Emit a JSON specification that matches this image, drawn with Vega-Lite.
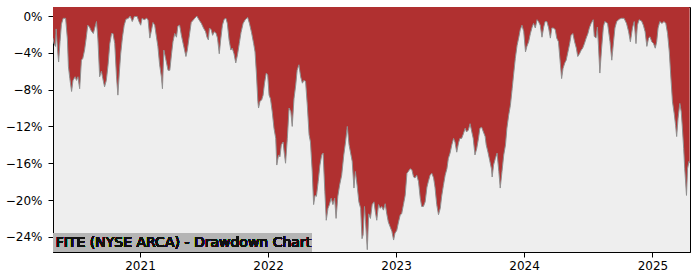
{
  "$schema": "https://vega.github.io/schema/vega-lite/v6.json",
  "width": 637,
  "height": 245,
  "autosize": "none",
  "padding": {"left": 53, "top": 7, "right": 10, "bottom": 28},
  "background": "white",
  "config": {
    "view": {"fill": "#eeeeee", "stroke": "black", "strokeWidth": 1},
    "axis": {"labelFont": "DejaVu Sans", "labelFontSize": 12, "labelColor": "black", "tickColor": "black", "domainColor": "black", "grid": false, "tickSize": 5}
  },
  "data": {"values": [
    {"d":"2020-04-28","v":-0.024},{"d":"2020-05-01","v":-0.030},{"d":"2020-05-05","v":-0.033},{"d":"2020-05-07","v":-0.014},{"d":"2020-05-11","v":-0.037},{"d":"2020-05-14","v":-0.050},{"d":"2020-05-18","v":-0.028},{"d":"2020-05-22","v":-0.009},{"d":"2020-05-27","v":-0.0025},{"d":"2020-06-03","v":-0.0025},{"d":"2020-06-08","v":-0.025},{"d":"2020-06-11","v":-0.055},{"d":"2020-06-15","v":-0.068},{"d":"2020-06-20","v":-0.082},{"d":"2020-06-24","v":-0.070},{"d":"2020-06-30","v":-0.066},{"d":"2020-07-04","v":-0.070},{"d":"2020-07-08","v":-0.066},{"d":"2020-07-13","v":-0.079},{"d":"2020-07-18","v":-0.048},{"d":"2020-07-22","v":-0.046},{"d":"2020-07-27","v":-0.037},{"d":"2020-08-01","v":-0.023},{"d":"2020-08-05","v":-0.010},{"d":"2020-08-10","v":-0.012},{"d":"2020-08-15","v":-0.016},{"d":"2020-08-21","v":-0.019},{"d":"2020-08-25","v":-0.013},{"d":"2020-08-30","v":-0.006},{"d":"2020-09-03","v":-0.025},{"d":"2020-09-08","v":-0.066},{"d":"2020-09-13","v":-0.060},{"d":"2020-09-17","v":-0.068},{"d":"2020-09-22","v":-0.077},{"d":"2020-09-27","v":-0.070},{"d":"2020-10-02","v":-0.053},{"d":"2020-10-07","v":-0.030},{"d":"2020-10-12","v":-0.019},{"d":"2020-10-16","v":-0.019},{"d":"2020-10-21","v":-0.030},{"d":"2020-10-26","v":-0.066},{"d":"2020-10-30","v":-0.086},{"d":"2020-11-03","v":-0.062},{"d":"2020-11-07","v":-0.041},{"d":"2020-11-12","v":-0.023},{"d":"2020-11-17","v":-0.010},{"d":"2020-11-22","v":-0.0035},{"d":"2020-11-29","v":-0.0025},{"d":"2020-12-04","v":0.0},{"d":"2020-12-10","v":-0.006},{"d":"2020-12-16","v":-0.0005},{"d":"2020-12-24","v":-0.0005},{"d":"2020-12-29","v":-0.006},{"d":"2021-01-03","v":-0.010},{"d":"2021-01-07","v":-0.0025},{"d":"2021-01-13","v":-0.004},{"d":"2021-01-20","v":-0.0025},{"d":"2021-01-24","v":-0.004},{"d":"2021-01-29","v":-0.024},{"d":"2021-02-03","v":-0.015},{"d":"2021-02-07","v":-0.007},{"d":"2021-02-12","v":-0.010},{"d":"2021-02-17","v":-0.023},{"d":"2021-02-21","v":-0.033},{"d":"2021-02-26","v":-0.053},{"d":"2021-03-03","v":-0.066},{"d":"2021-03-06","v":-0.079},{"d":"2021-03-10","v":-0.037},{"d":"2021-03-15","v":-0.046},{"d":"2021-03-22","v":-0.059},{"d":"2021-03-27","v":-0.059},{"d":"2021-04-01","v":-0.041},{"d":"2021-04-05","v":-0.028},{"d":"2021-04-10","v":-0.019},{"d":"2021-04-15","v":-0.023},{"d":"2021-04-19","v":-0.011},{"d":"2021-04-24","v":-0.010},{"d":"2021-04-29","v":-0.021},{"d":"2021-05-04","v":-0.030},{"d":"2021-05-08","v":-0.037},{"d":"2021-05-12","v":-0.044},{"d":"2021-05-16","v":-0.037},{"d":"2021-05-21","v":-0.023},{"d":"2021-05-27","v":-0.007},{"d":"2021-06-06","v":-0.0025},{"d":"2021-06-12","v":0.0},{"d":"2021-06-18","v":-0.004},{"d":"2021-06-25","v":-0.008},{"d":"2021-07-01","v":-0.013},{"d":"2021-07-07","v":-0.017},{"d":"2021-07-11","v":-0.023},{"d":"2021-07-15","v":-0.026},{"d":"2021-07-18","v":-0.013},{"d":"2021-07-23","v":-0.015},{"d":"2021-07-27","v":-0.021},{"d":"2021-08-01","v":-0.017},{"d":"2021-08-06","v":-0.019},{"d":"2021-08-10","v":-0.024},{"d":"2021-08-15","v":-0.041},{"d":"2021-08-19","v":-0.026},{"d":"2021-08-24","v":-0.010},{"d":"2021-08-29","v":-0.0035},{"d":"2021-09-03","v":-0.0025},{"d":"2021-09-07","v":-0.008},{"d":"2021-09-12","v":-0.026},{"d":"2021-09-17","v":-0.037},{"d":"2021-09-21","v":-0.035},{"d":"2021-09-26","v":-0.041},{"d":"2021-10-01","v":-0.051},{"d":"2021-10-06","v":-0.042},{"d":"2021-10-11","v":-0.030},{"d":"2021-10-16","v":-0.018},{"d":"2021-10-22","v":-0.008},{"d":"2021-10-28","v":-0.004},{"d":"2021-11-04","v":-0.0015},{"d":"2021-11-09","v":-0.008},{"d":"2021-11-15","v":-0.018},{"d":"2021-11-21","v":-0.030},{"d":"2021-11-25","v":-0.039},{"d":"2021-11-29","v":-0.063},{"d":"2021-12-03","v":-0.093},{"d":"2021-12-05","v":-0.100},{"d":"2021-12-09","v":-0.093},{"d":"2021-12-14","v":-0.091},{"d":"2021-12-18","v":-0.086},{"d":"2021-12-22","v":-0.073},{"d":"2021-12-27","v":-0.062},{"d":"2021-12-31","v":-0.064},{"d":"2022-01-04","v":-0.086},{"d":"2022-01-08","v":-0.090},{"d":"2022-01-13","v":-0.104},{"d":"2022-01-18","v":-0.122},{"d":"2022-01-23","v":-0.133},{"d":"2022-01-26","v":-0.162},{"d":"2022-01-31","v":-0.151},{"d":"2022-02-04","v":-0.153},{"d":"2022-02-08","v":-0.140},{"d":"2022-02-13","v":-0.137},{"d":"2022-02-16","v":-0.148},{"d":"2022-02-20","v":-0.160},{"d":"2022-02-25","v":-0.133},{"d":"2022-03-02","v":-0.100},{"d":"2022-03-07","v":-0.104},{"d":"2022-03-11","v":-0.120},{"d":"2022-03-16","v":-0.090},{"d":"2022-03-21","v":-0.075},{"d":"2022-03-25","v":-0.059},{"d":"2022-03-30","v":-0.053},{"d":"2022-04-04","v":-0.066},{"d":"2022-04-09","v":-0.073},{"d":"2022-04-13","v":-0.070},{"d":"2022-04-18","v":-0.071},{"d":"2022-04-23","v":-0.097},{"d":"2022-04-28","v":-0.129},{"d":"2022-05-02","v":-0.137},{"d":"2022-05-07","v":-0.169},{"d":"2022-05-11","v":-0.205},{"d":"2022-05-15","v":-0.195},{"d":"2022-05-19","v":-0.196},{"d":"2022-05-24","v":-0.180},{"d":"2022-05-29","v":-0.162},{"d":"2022-06-03","v":-0.151},{"d":"2022-06-07","v":-0.149},{"d":"2022-06-12","v":-0.191},{"d":"2022-06-16","v":-0.222},{"d":"2022-06-21","v":-0.209},{"d":"2022-06-25","v":-0.205},{"d":"2022-06-30","v":-0.198},{"d":"2022-07-05","v":-0.205},{"d":"2022-07-10","v":-0.198},{"d":"2022-07-14","v":-0.220},{"d":"2022-07-19","v":-0.196},{"d":"2022-07-24","v":-0.184},{"d":"2022-07-30","v":-0.173},{"d":"2022-08-05","v":-0.151},{"d":"2022-08-10","v":-0.137},{"d":"2022-08-15","v":-0.120},{"d":"2022-08-20","v":-0.140},{"d":"2022-08-24","v":-0.148},{"d":"2022-08-29","v":-0.158},{"d":"2022-09-03","v":-0.187},{"d":"2022-09-07","v":-0.169},{"d":"2022-09-12","v":-0.184},{"d":"2022-09-17","v":-0.202},{"d":"2022-09-22","v":-0.209},{"d":"2022-09-26","v":-0.242},{"d":"2022-09-29","v":-0.238},{"d":"2022-10-03","v":-0.207},{"d":"2022-10-06","v":-0.223},{"d":"2022-10-11","v":-0.254},{"d":"2022-10-15","v":-0.215},{"d":"2022-10-20","v":-0.220},{"d":"2022-10-25","v":-0.205},{"d":"2022-10-30","v":-0.202},{"d":"2022-11-03","v":-0.213},{"d":"2022-11-07","v":-0.222},{"d":"2022-11-12","v":-0.205},{"d":"2022-11-17","v":-0.209},{"d":"2022-11-21","v":-0.207},{"d":"2022-11-26","v":-0.211},{"d":"2022-12-01","v":-0.204},{"d":"2022-12-06","v":-0.216},{"d":"2022-12-10","v":-0.224},{"d":"2022-12-15","v":-0.229},{"d":"2022-12-20","v":-0.234},{"d":"2022-12-25","v":-0.2435},{"d":"2022-12-29","v":-0.236},{"d":"2023-01-03","v":-0.233},{"d":"2023-01-08","v":-0.224},{"d":"2023-01-13","v":-0.216},{"d":"2023-01-17","v":-0.215},{"d":"2023-01-22","v":-0.205},{"d":"2023-01-27","v":-0.195},{"d":"2023-02-01","v":-0.171},{"d":"2023-02-05","v":-0.169},{"d":"2023-02-10","v":-0.166},{"d":"2023-02-15","v":-0.167},{"d":"2023-02-20","v":-0.175},{"d":"2023-02-24","v":-0.176},{"d":"2023-03-01","v":-0.173},{"d":"2023-03-06","v":-0.180},{"d":"2023-03-11","v":-0.198},{"d":"2023-03-15","v":-0.207},{"d":"2023-03-20","v":-0.207},{"d":"2023-03-25","v":-0.202},{"d":"2023-03-30","v":-0.186},{"d":"2023-04-03","v":-0.180},{"d":"2023-04-08","v":-0.173},{"d":"2023-04-13","v":-0.171},{"d":"2023-04-18","v":-0.176},{"d":"2023-04-22","v":-0.186},{"d":"2023-04-27","v":-0.205},{"d":"2023-05-02","v":-0.216},{"d":"2023-05-07","v":-0.209},{"d":"2023-05-11","v":-0.196},{"d":"2023-05-16","v":-0.184},{"d":"2023-05-21","v":-0.173},{"d":"2023-05-26","v":-0.166},{"d":"2023-05-30","v":-0.155},{"d":"2023-06-04","v":-0.149},{"d":"2023-06-09","v":-0.140},{"d":"2023-06-14","v":-0.133},{"d":"2023-06-18","v":-0.137},{"d":"2023-06-23","v":-0.148},{"d":"2023-06-28","v":-0.138},{"d":"2023-07-02","v":-0.133},{"d":"2023-07-07","v":-0.133},{"d":"2023-07-12","v":-0.128},{"d":"2023-07-17","v":-0.122},{"d":"2023-07-21","v":-0.126},{"d":"2023-07-26","v":-0.124},{"d":"2023-07-31","v":-0.117},{"d":"2023-08-05","v":-0.126},{"d":"2023-08-09","v":-0.133},{"d":"2023-08-14","v":-0.151},{"d":"2023-08-19","v":-0.144},{"d":"2023-08-24","v":-0.133},{"d":"2023-08-28","v":-0.122},{"d":"2023-09-02","v":-0.121},{"d":"2023-09-07","v":-0.126},{"d":"2023-09-12","v":-0.131},{"d":"2023-09-15","v":-0.140},{"d":"2023-09-20","v":-0.148},{"d":"2023-09-25","v":-0.157},{"d":"2023-09-30","v":-0.166},{"d":"2023-10-02","v":-0.175},{"d":"2023-10-06","v":-0.162},{"d":"2023-10-11","v":-0.155},{"d":"2023-10-16","v":-0.149},{"d":"2023-10-21","v":-0.169},{"d":"2023-10-25","v":-0.187},{"d":"2023-10-30","v":-0.169},{"d":"2023-11-04","v":-0.151},{"d":"2023-11-09","v":-0.140},{"d":"2023-11-13","v":-0.122},{"d":"2023-11-18","v":-0.108},{"d":"2023-11-23","v":-0.097},{"d":"2023-11-28","v":-0.079},{"d":"2023-12-02","v":-0.064},{"d":"2023-12-07","v":-0.046},{"d":"2023-12-12","v":-0.032},{"d":"2023-12-17","v":-0.023},{"d":"2023-12-21","v":-0.015},{"d":"2023-12-26","v":-0.010},{"d":"2023-12-31","v":-0.017},{"d":"2024-01-05","v":-0.039},{"d":"2024-01-09","v":-0.033},{"d":"2024-01-14","v":-0.028},{"d":"2024-01-19","v":-0.019},{"d":"2024-01-24","v":-0.012},{"d":"2024-01-28","v":-0.008},{"d":"2024-02-02","v":-0.013},{"d":"2024-02-07","v":-0.004},{"d":"2024-02-11","v":-0.006},{"d":"2024-02-16","v":-0.010},{"d":"2024-02-21","v":-0.023},{"d":"2024-02-26","v":-0.012},{"d":"2024-03-01","v":-0.006},{"d":"2024-03-06","v":-0.006},{"d":"2024-03-11","v":-0.013},{"d":"2024-03-16","v":-0.024},{"d":"2024-03-20","v":-0.013},{"d":"2024-03-25","v":-0.013},{"d":"2024-03-30","v":-0.015},{"d":"2024-04-03","v":-0.024},{"d":"2024-04-08","v":-0.028},{"d":"2024-04-13","v":-0.050},{"d":"2024-04-17","v":-0.068},{"d":"2024-04-21","v":-0.057},{"d":"2024-04-26","v":-0.051},{"d":"2024-04-30","v":-0.048},{"d":"2024-05-05","v":-0.039},{"d":"2024-05-10","v":-0.030},{"d":"2024-05-14","v":-0.021},{"d":"2024-05-19","v":-0.019},{"d":"2024-05-24","v":-0.028},{"d":"2024-05-29","v":-0.035},{"d":"2024-06-02","v":-0.044},{"d":"2024-06-07","v":-0.041},{"d":"2024-06-12","v":-0.037},{"d":"2024-06-16","v":-0.035},{"d":"2024-06-21","v":-0.030},{"d":"2024-06-26","v":-0.024},{"d":"2024-07-01","v":-0.019},{"d":"2024-07-05","v":-0.013},{"d":"2024-07-10","v":-0.008},{"d":"2024-07-16","v":-0.004},{"d":"2024-07-19","v":-0.022},{"d":"2024-07-24","v":-0.024},{"d":"2024-07-28","v":-0.012},{"d":"2024-07-31","v":-0.032},{"d":"2024-08-04","v":-0.062},{"d":"2024-08-09","v":-0.035},{"d":"2024-08-14","v":-0.012},{"d":"2024-08-18","v":-0.006},{"d":"2024-08-26","v":-0.008},{"d":"2024-09-02","v":-0.028},{"d":"2024-09-07","v":-0.048},{"d":"2024-09-12","v":-0.028},{"d":"2024-09-16","v":-0.013},{"d":"2024-09-21","v":-0.006},{"d":"2024-09-28","v":-0.0035},{"d":"2024-10-04","v":-0.0025},{"d":"2024-10-12","v":-0.0025},{"d":"2024-10-19","v":-0.008},{"d":"2024-10-25","v":-0.017},{"d":"2024-10-30","v":-0.028},{"d":"2024-11-05","v":-0.013},{"d":"2024-11-10","v":-0.006},{"d":"2024-11-15","v":-0.030},{"d":"2024-11-19","v":-0.010},{"d":"2024-11-24","v":-0.004},{"d":"2024-12-01","v":-0.0055},{"d":"2024-12-06","v":-0.010},{"d":"2024-12-11","v":-0.017},{"d":"2024-12-16","v":-0.033},{"d":"2024-12-21","v":-0.024},{"d":"2024-12-25","v":-0.0225},{"d":"2024-12-30","v":-0.028},{"d":"2025-01-04","v":-0.030},{"d":"2025-01-09","v":-0.035},{"d":"2025-01-13","v":-0.028},{"d":"2025-01-17","v":-0.013},{"d":"2025-01-22","v":-0.006},{"d":"2025-01-28","v":-0.008},{"d":"2025-02-03","v":-0.006},{"d":"2025-02-08","v":-0.008},{"d":"2025-02-13","v":-0.019},{"d":"2025-02-18","v":-0.039},{"d":"2025-02-22","v":-0.064},{"d":"2025-02-27","v":-0.093},{"d":"2025-03-04","v":-0.106},{"d":"2025-03-08","v":-0.119},{"d":"2025-03-11","v":-0.131},{"d":"2025-03-15","v":-0.111},{"d":"2025-03-20","v":-0.095},{"d":"2025-03-24","v":-0.104},{"d":"2025-03-27","v":-0.120},{"d":"2025-03-31","v":-0.144},{"d":"2025-04-03","v":-0.166},{"d":"2025-04-08","v":-0.195},{"d":"2025-04-11","v":-0.166},{"d":"2025-04-15","v":-0.158},{"d":"2025-04-17","v":-0.160}
  ]},
  "layer": [
    {
      "mark": {"type": "area", "color": "#b03030", "clip": true},
      "encoding": {
        "x": {"field": "d", "type": "temporal",
          "scale": {"type": "utc", "domain": [{"year": 2020, "month": 4, "date": 28, "utc": true}, {"year": 2025, "month": 4, "date": 18, "utc": true}]},
          "axis": {"title": null, "format": "%Y", "formatType": "utc", "labelPadding": 3,
            "values": [{"year": 2021, "month": 1, "date": 1, "utc": true}, {"year": 2022, "month": 1, "date": 1, "utc": true}, {"year": 2023, "month": 1, "date": 1, "utc": true}, {"year": 2024, "month": 1, "date": 1, "utc": true}, {"year": 2025, "month": 1, "date": 1, "utc": true}]}},
        "y": {"field": "v", "type": "quantitative",
          "scale": {"domain": [-0.2565, 0.0098], "nice": false, "zero": false},
          "axis": {"title": null, "format": ".0%", "labelPadding": 6, "values": [0, -0.04, -0.08, -0.12, -0.16, -0.2, -0.24]}},
        "y2": {"datum": 0.0098}
      }
    },
    {
      "mark": {"type": "line", "color": "#8f8f8f", "strokeWidth": 1, "clip": true},
      "encoding": {
        "x": {"field": "d", "type": "temporal"},
        "y": {"field": "v", "type": "quantitative"}
      }
    },
    {
      "mark": {"type": "rect", "color": "#b5b5b5"},
      "encoding": {
        "x": {"datum": {"year": 2020, "month": 4, "date": 28, "utc": true}, "type": "temporal"},
        "x2": {"datum": {"year": 2022, "month": 5, "date": 6, "utc": true}},
        "y": {"datum": -0.2565, "type": "quantitative"},
        "y2": {"datum": -0.2358}
      }
    },
    {
      "mark": {"type": "text", "font": "DejaVu Sans", "fontSize": 14, "fill": "#111111", "align": "left", "baseline": "alphabetic"},
      "encoding": {
        "x": {"datum": {"year": 2020, "month": 5, "date": 6, "utc": true}, "type": "temporal"},
        "y": {"datum": -0.2508, "type": "quantitative"},
        "text": {"value": "FITE (NYSE ARCA) - Drawdown Chart"}
      }
    }
  ]
}
